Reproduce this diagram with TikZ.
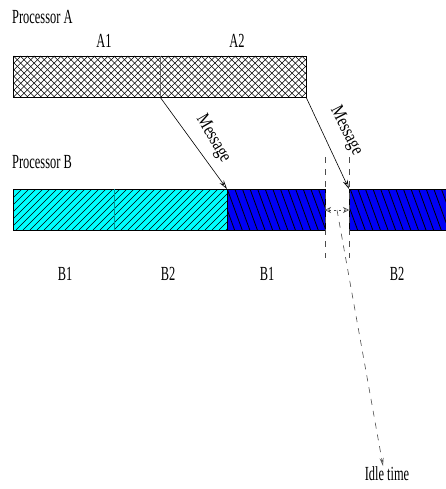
\documentclass[tikz,border=0pt]{standalone}
\usepackage{fontspec}
\setmainfont{Liberation Serif}[FakeStretch=0.62]
\newfontfamily\msgfont{Liberation Serif}[FakeStretch=0.78]
\usetikzlibrary{arrows.meta}
\definecolor{bblue}{RGB}{0,0,245}
\definecolor{ccyan}{RGB}{0,255,255}
\begin{document}
\begin{tikzpicture}[x=1pt,y=-1pt,
  lbl/.style={font=\fontsize{20}{20}\selectfont, inner sep=0pt},
  mlbl/.style={font=\msgfont\fontsize{19}{19}\selectfont, inner sep=0pt},
  bar/.style={draw=black, line width=0.7pt, inner sep=0pt, outer sep=0pt, minimum height=41pt, anchor=north west},
  hatch/.style={line width=0.6pt, black},
  msg/.style={-{Stealth[open,length=9pt,width=5pt]}, line width=0.6pt},
  dsh/.style={line width=0.6pt, draw=black!70, dash pattern=on 6pt off 6pt}
]
\useasboundingbox (0,0) rectangle (445,489);

% Processor A
\node[lbl, anchor=west] (pa) at (12,17) {Processor A};
\node[bar, fill=white, minimum width=147pt] (a1) at (13,56) {};
\node[bar, fill=white, minimum width=146pt] (a2) at (160,56) {};
\begin{scope}
  \clip (a1.north west) rectangle (a2.south east);
  \foreach \x in {-40,-33.3,...,310} {
    \draw[hatch, line width=0.55pt] (\x,97) -- ++(41,-41);
    \draw[hatch, line width=0.55pt] (\x,56) -- ++(41,41);
  }
\end{scope}
\draw[line width=0.7pt] (a1.north west) rectangle (a2.south east);
\draw[line width=0.6pt, black!60] (a1.north east) -- (a1.south east);
\node[lbl] (la1) at (104,41) {A1};
\node[lbl] (la2) at (237,41) {A2};

% Processor B
\node[lbl, anchor=west] (pb) at (12,162) {Processor B};
\node[bar, fill=ccyan, minimum width=101pt] (b1) at (13,189) {};
\node[bar, fill=ccyan, minimum width=113pt] (b2) at (114,189) {};
\node[bar, fill=bblue, minimum width=98pt] (b3) at (227,189) {};
\node[bar, fill=bblue, minimum width=100pt] (b4) at (349,189) {};
\begin{scope}
  \clip (b1.north west) rectangle (b2.south east);
  \foreach \x in {-40,-33,...,240} \draw[hatch] (\x,230) -- ++(41,-41);
\end{scope}
\begin{scope}
  \clip (b3.north west) rectangle (b3.south east);
  \foreach \x in {212,219.6,...,330} \draw[hatch, line width=0.8pt] (\x,189) -- ++(15,41);
\end{scope}
\begin{scope}
  \clip (b4.north west) rectangle (b4.south east);
  \foreach \x in {335,342.6,...,450} \draw[hatch, line width=0.8pt] (\x,189) -- ++(15,41);
\end{scope}
\draw[line width=0.7pt] (b1.north west) rectangle (b2.south east);
\draw[line width=0.7pt, teal!80!cyan] (b1.north east) -- (b1.south east);
\draw[line width=0.7pt] (b3.north west) rectangle (b3.south east);
\draw[line width=0.7pt] (b4.north west) rectangle (b4.south east);

\node[lbl] (lb1) at (65,274) {B1};
\node[lbl] (lb2) at (168,274) {B2};
\node[lbl] (lb3) at (267,274) {B1};
\node[lbl] (lb4) at (397,274) {B2};

% messages
\draw[msg] (a1.south east) -- (b2.north east);
\draw[msg] (a2.south east) -- (b4.north west);
\node[mlbl, rotate=-60] (m1) at (213,139) {Message};
\node[mlbl, rotate=-63] (m2) at (346,131) {Message};

% idle gap
\coordinate (gLt) at (325,157);
\coordinate (gLb) at (325,258);
\coordinate (gRt) at (349,157);
\coordinate (gRb) at (349,258);
\draw[dsh] (gLt) -- (gLb);
\draw[dsh] (gRt) -- (gRb);
\coordinate (gl) at (325,210);
\coordinate (gr) at (349,210);
\coordinate (gm) at (337,210);
\draw[dsh, {Stealth[open,length=6pt,width=6pt]}-{Stealth[open,length=6pt,width=6pt]}, dash pattern=on 2pt off 3pt] (gl) -- (gr);
\node[lbl, anchor=north] (idle) at (387,466) {Idle time};
\draw[dsh, -{Stealth[open,length=8pt,width=4pt]}] (gm) -- (idle.north -| 383,0);
\end{tikzpicture}
\end{document}
